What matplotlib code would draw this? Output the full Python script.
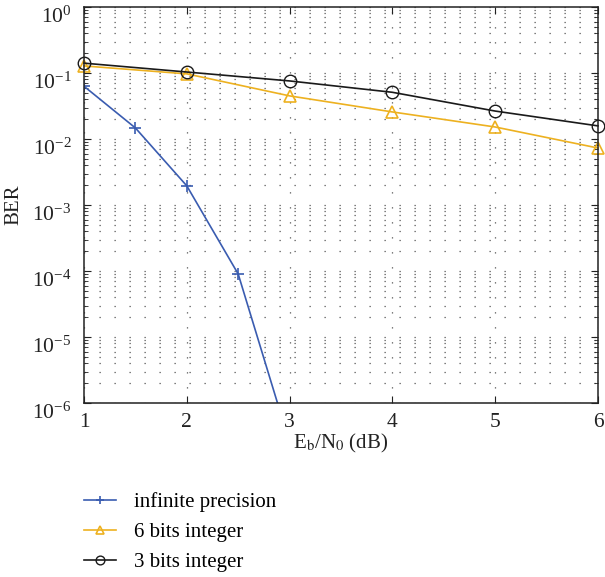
import matplotlib
matplotlib.use('Agg')
import matplotlib.pyplot as plt
from matplotlib.ticker import LogLocator, NullFormatter

# Данные
snr_inf = [1.0, 1.5, 2.0, 2.5, 3.0]
ber_inf = [6.3e-2, 1.47e-2, 1.95e-3, 9.0e-5, 2.5e-7]

snr_q = [1, 2, 3, 4, 5, 6]
ber_6bit = [0.128, 0.097, 0.045, 0.0257, 0.0152, 0.0073]
ber_3bit = [0.141, 0.1035, 0.0758, 0.051, 0.0265, 0.0158]

labels = ['infinite precision', '6 bits integer', '3 bits integer']

plt.rcParams['font.family'] = ['Liberation Serif', 'DejaVu Serif']
plt.rcParams['mathtext.fontset'] = 'stix'

fig = plt.figure(figsize=(6.05, 5.77), dpi=100)
ax = fig.add_axes([84 / 605, 1 - 403 / 577, 514 / 605, 396 / 577])

ax.semilogy(snr_inf, ber_inf, color='#3a5cb0', lw=1.2, marker='+', ms=9, mew=1.2, label=labels[0])
ax.semilogy(snr_q, ber_6bit, color='#edb120', lw=1.2, marker='^', ms=9, mfc='none', mew=1.2,
            label=labels[1], clip_on=False)
ax.semilogy(snr_q, ber_3bit, color='#1a1a1a', lw=1.2, marker='o', ms=9, mfc='none', mew=1.0,
            label=labels[2], clip_on=False)

ax.set_xlim(1, 6)
ax.set_ylim(1e-6, 1)
ax.set_xticks([1, 2, 3, 4, 5, 6])
ax.yaxis.set_major_locator(LogLocator(base=10, numticks=10))
ax.yaxis.set_minor_locator(LogLocator(base=10, subs=range(2, 10), numticks=10))
ax.yaxis.set_minor_formatter(NullFormatter())

# Сетка пунктиром как в MATLAB
ax.grid(True, which='major', color='#555555', linestyle=(0, (1, 11)), lw=0.9)
ax.grid(True, which='minor', axis='y', color='#555555', linestyle=(0, (1, 11)), lw=0.9)

ax.tick_params(which='both', direction='in', top=True, right=True, labelsize=15.5, colors='#222222')
ax.tick_params(which='major', length=5)
ax.tick_params(which='minor', length=3)
ax.tick_params(axis='y', which='major', pad=9)
ax.tick_params(axis='x', which='major', pad=7)
for lbl in ax.get_yticklabels():
    lbl.set_verticalalignment('top')
for s in ax.spines.values():
    s.set_linewidth(1.1)
    s.set_color('#222222')

ax.set_xlabel(r'E$_\mathrm{b}$/N$_0$ (dB)', fontsize=15, color='#222222', labelpad=0)
ax.set_ylabel('BER', fontsize=15, color='#222222')
ax.yaxis.set_label_coords(-0.118, 0.5)

fig.legend(loc='upper left', bbox_to_anchor=(76 / 605, 1 - 484 / 577), frameon=False,
           fontsize=15, handlelength=1.5, handletextpad=0.9, labelspacing=0.5,
           markerscale=0.7, borderaxespad=0)

fig.savefig('out.png', dpi=100)
plt.close()
